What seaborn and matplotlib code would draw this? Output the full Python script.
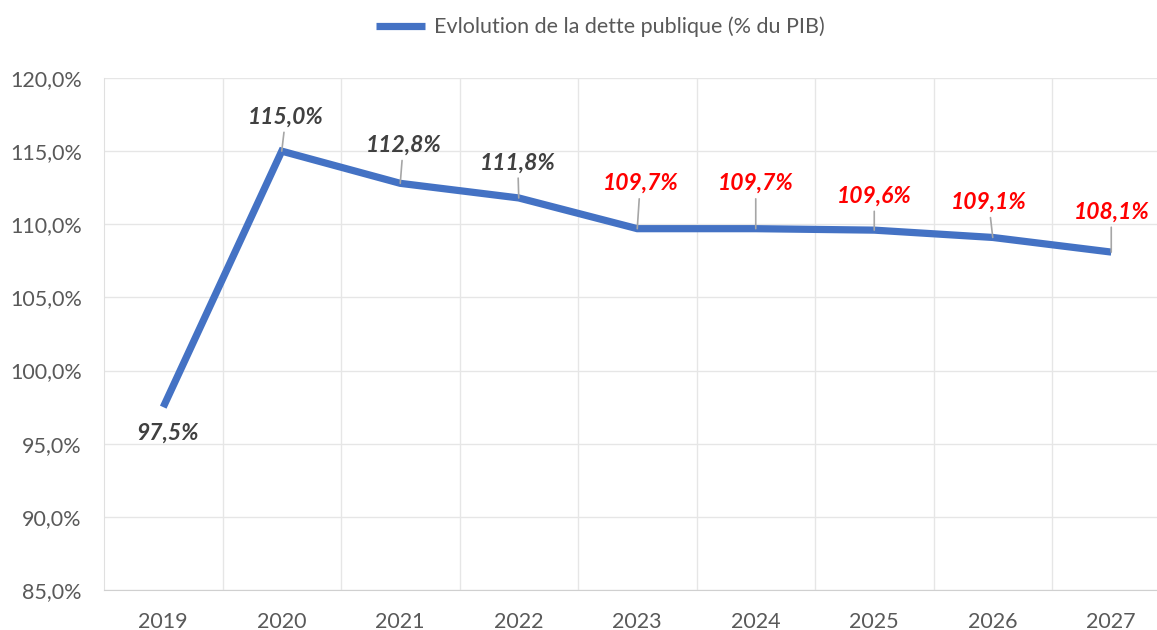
import pandas as pd
import seaborn as sns
import matplotlib.pyplot as plt
from matplotlib.ticker import FuncFormatter, MultipleLocator, FixedLocator

# Data
years = ["2019", "2020", "2021", "2022", "2023", "2024", "2025", "2026", "2027"]
debt = [97.5, 115.0, 112.8, 111.8, 109.7, 109.7, 109.6, 109.1, 108.1]
label_colors = ["#404040"] * 4 + ["#FF0000"] * 5
# label offsets in pixels (dx, dy) relative to each point
label_offsets = [(4, -26), (4, 34), (3, 38), (-1, 35), (3, 45), (0, 45), (0, 34), (-4, 35), (0, 40)]

df = pd.DataFrame({"Année": years, "Dette": debt})

sns.set_style("white")
plt.rcParams["font.family"] = ["Lato", "DejaVu Sans"]

fig = plt.figure(figsize=(11.57, 6.3), dpi=100)
ax = fig.add_axes([104 / 1157, 40 / 630, 1053 / 1157, 512 / 630])

sns.lineplot(data=df, x="Année", y="Dette", color="#4472C4", linewidth=5.2,
             label="Evlolution de la dette publique (% du PIB)", ax=ax,
             solid_joinstyle="miter", solid_capstyle="butt")

ax.set_ylim(85, 120)
ax.set_xlim(-0.5, -0.5 + 1053 / 118.5)
ax.yaxis.set_major_locator(MultipleLocator(5))
ax.yaxis.set_major_formatter(FuncFormatter(lambda v, _: f"{v:.1f}".replace(".", ",") + "%"))
ax.xaxis.set_minor_locator(FixedLocator([i + 0.5 for i in range(len(years))]))

ax.grid(axis="y", which="major", color="#E6E6E6", linewidth=1)
ax.grid(axis="x", which="minor", color="#E6E6E6", linewidth=1)
ax.set_axisbelow(True)
ax.tick_params(axis="both", which="both", length=0, labelsize=15.5, labelcolor="#595959")
ax.tick_params(axis="x", pad=16)
ax.tick_params(axis="y", pad=16)
ax.set_xlabel("")
ax.set_ylabel("")

for side in ["top", "right"]:
    ax.spines[side].set_visible(False)
ax.spines["left"].set_color("#E0E0E0")
ax.spines["bottom"].set_color("#D0D0D0")

for i, (yr, v) in enumerate(zip(years, debt)):
    txt = f"{v:.1f}".replace(".", ",") + "%"
    arrow = None if i == 0 else dict(arrowstyle="-", color="#A6A6A6", lw=1.2, shrinkA=1, shrinkB=0)
    ax.annotate(txt, xy=(i, v), xytext=label_offsets[i], textcoords="offset pixels",
                ha="center", va="center", fontsize=16.5, fontweight="bold", fontstyle="italic",
                color=label_colors[i], arrowprops=arrow)

leg = ax.legend(loc="center", bbox_to_anchor=(600 / 1157, 1 - 27 / 630), bbox_transform=fig.transFigure,
                frameon=False, fontsize=15.5, handlelength=2.3, handletextpad=0.4)
for t in leg.get_texts():
    t.set_color("#595959")

fig.savefig("out.png", dpi=100)
